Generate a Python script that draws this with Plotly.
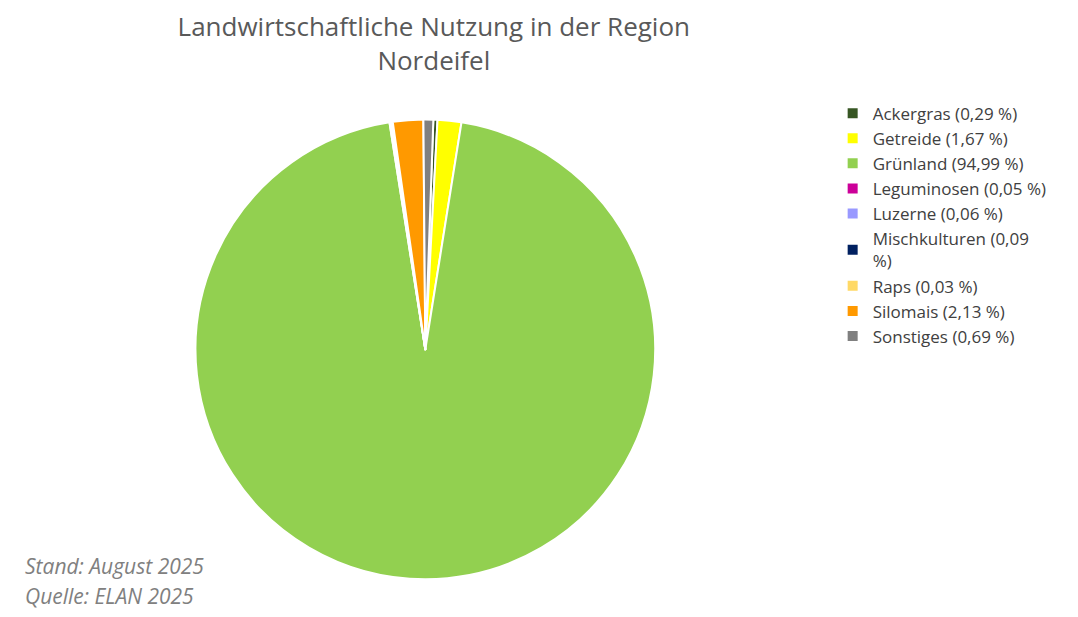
import plotly.graph_objects as go

categories = ["Ackergras", "Getreide", "Grünland", "Leguminosen", "Luzerne",
              "Mischkulturen", "Raps", "Silomais", "Sonstiges"]
values = [0.29, 1.67, 94.99, 0.05, 0.06, 0.09, 0.03, 2.13, 0.69]
colors = ["#375623", "#FFFF00", "#92D050", "#CC0099", "#9999FF",
          "#002060", "#FFD966", "#FF9900", "#808080"]
labels = [f"{c} ({str(v).replace('.', ',')} %)" for c, v in zip(categories, values)]
labels[5] = "Mischkulturen (0,09<br>%)"

fig = go.Figure(go.Pie(
    labels=labels, values=values, sort=False, direction="clockwise", rotation=2,
    marker=dict(colors=colors, line=dict(color="white", width=2)),
    textinfo="none", hoverinfo="label",
    domain=dict(x=[0.0, 0.77], y=[0.06, 0.83])
))
fig.update_layout(
    width=1078, height=617, paper_bgcolor="white",
    font=dict(family="Open Sans, sans-serif", color="#404040", size=16),
    margin=dict(l=10, r=10, t=10, b=10),
    title=dict(text="Landwirtschaftliche Nutzung in der Region<br>Nordeifel",
               x=0.395, xanchor="center", y=0.955, yanchor="top",
               font=dict(size=26, color="#595959")),
    legend=dict(x=0.77, y=0.87, yanchor="top", tracegroupgap=0,
                font=dict(size=17, color="#404040"), itemsizing="constant"),
    annotations=[
        dict(text="<i>Stand: August 2025</i>", x=0.005, y=0.055, xref="paper", yref="paper",
             xanchor="left", showarrow=False, font=dict(size=21, color="#808080")),
        dict(text="<i>Quelle: ELAN 2025</i>", x=0.005, y=0.005, xref="paper", yref="paper",
             xanchor="left", showarrow=False, font=dict(size=21, color="#808080")),
    ],
)
fig.write_html("out.html")
